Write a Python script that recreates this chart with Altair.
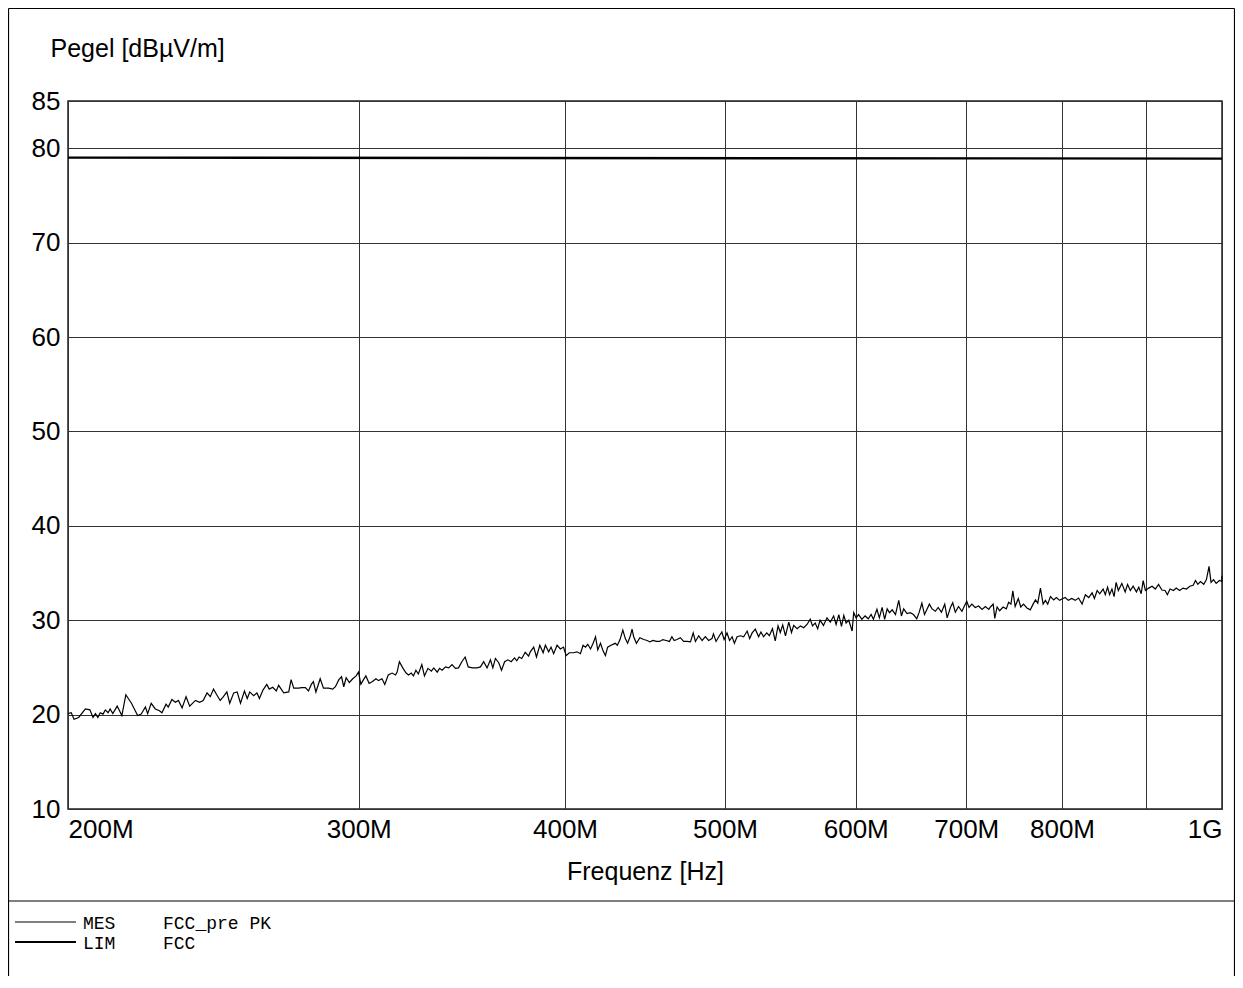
import altair as alt
import pandas as pd

# ---------------- data (frequency in MHz, level in dBµV/m) ----------------
mes_freq_a = [200.0, 200.9, 201.7, 203.0, 204.9, 206.2, 207.1, 207.8, 208.5, 209.2, 210.0, 210.7, 211.5, 212.1, 212.9,
              214.2, 215.6, 216.8, 218.5, 220.4, 221.5, 222.8, 223.5, 224.6, 225.9, 227.2, 228.0, 229.3, 230.0, 231.2,
              232.3, 233.3, 234.5, 235.8, 237.0, 238.9, 240.3, 241.5, 242.8, 243.9, 245.0, 246.1, 247.3, 248.4, 249.6,
              250.6, 252.0, 253.2, 254.4, 255.8, 256.8, 257.7, 259.1, 260.3, 261.2, 262.5, 263.9, 264.8, 266.1, 267.4,
              268.3, 270.2, 272.1, 273.0, 274.0, 275.9]
mes_level_a = [20.1, 20.2, 19.5, 19.7, 20.6, 20.5, 19.7, 20.1, 19.7, 20.2, 20.05, 20.5, 20.2, 20.6, 20.1,
               20.9, 19.9, 22.1, 21.2, 19.9, 20.05, 20.8, 20.1, 21.2, 20.6, 20.4, 20.2, 21.1, 20.8, 21.6,
               21.3, 21.5, 20.7, 21.9, 20.9, 21.5, 21.3, 21.5, 22.3, 21.9, 22.7, 22.1, 21.5, 21.9, 22.4,
               21.2, 22.3, 22.4, 21.2, 22.5, 21.7, 22.4, 22.0, 22.3, 21.7, 22.6, 23.2, 22.7, 22.9, 22.5,
               23.1, 22.3, 22.4, 23.7, 22.8, 22.8]

mes_freq_b = [277.0, 278.5, 279.7, 280.8, 281.6, 282.6, 284.3, 285.6, 287.7, 289.3, 290.4, 291.8, 292.9, 293.8, 294.8,
              296.1, 297.5, 298.9, 299.9, 300.9, 302.0, 303.0, 304.4, 305.8, 307.3, 308.4, 309.9, 311.1, 312.6, 314.3,
              315.8, 316.5, 317.5, 319.0, 320.5, 321.6, 322.8, 323.8, 324.9, 326.0, 327.6, 328.8, 330.4, 332.0, 333.1,
              334.7, 335.8, 337.0, 338.6, 340.1, 341.7, 343.3, 344.8, 346.4, 348.0, 349.5, 351.6, 353.8, 355.5, 357.1,
              358.8, 360.5, 361.7, 363.0, 364.7, 366.1, 367.7, 369.4, 371.1, 372.8, 374.0, 375.2, 376.6, 378.4, 380.2]
mes_level_b = [22.85, 22.85, 22.5, 23.2, 23.5, 22.4, 23.8, 22.8, 22.8, 22.7, 22.95, 23.7, 24.0, 22.95, 23.9,
               23.4, 23.8, 24.1, 24.5, 23.2, 23.7, 24.1, 23.3, 23.5, 23.8, 23.6, 23.8, 23.2, 24.2, 24.4,
               24.2, 24.5, 25.6, 24.95, 24.4, 24.2, 24.4, 24.1, 24.7, 24.3, 25.3, 24.1, 24.9, 24.6, 24.95,
               24.5, 24.9, 24.7, 25.05, 24.95, 25.3, 24.9, 24.95, 25.6, 26.1, 25.05, 24.95, 24.95, 25.05, 25.6,
               24.95, 25.8, 24.95, 25.95, 25.5, 24.7, 25.6, 25.8, 25.6, 26.0, 25.7, 26.1, 25.95, 26.6, 26.2]

mes_freq_c = [381.1, 382.9, 384.4, 386.2, 388.0, 389.2, 391.0, 392.3, 393.7, 395.6, 397.4, 399.2, 400.6, 402.4, 404.8,
              406.7, 408.7, 410.2, 411.6, 412.9, 414.5, 416.0, 417.4, 418.7, 420.3, 421.8, 423.2, 424.5, 426.5, 429.0,
              430.3, 431.9, 433.6, 435.1, 436.5, 438.2, 439.2, 440.2, 441.9, 444.0, 446.4, 448.6, 450.2, 452.3, 454.3,
              456.4, 458.5, 460.6, 462.7, 464.3, 465.8, 467.6, 469.8, 472.0, 474.3, 476.5, 478.3, 479.8, 482.0, 484.3,
              486.5, 488.7, 491.0, 492.0, 493.8, 496.1, 497.8, 499.4, 501.4, 503.2, 505.0, 506.6, 508.5, 510.9, 513.2,
              515.7, 517.5, 519.3, 521.6, 524.0, 525.7, 527.6, 530.0, 531.9]
mes_level_c = [26.65, 27.15, 26.1, 27.35, 26.55, 27.35, 26.65, 27.15, 26.45, 27.35, 26.95, 27.15, 26.25, 26.55, 26.55,
               26.65, 26.45, 27.35, 27.15, 27.45, 26.95, 27.55, 28.25, 26.85, 27.55, 26.75, 26.25, 27.15, 27.35, 27.55,
               27.35, 27.95, 28.95, 28.05, 27.55, 28.35, 29.05, 28.25, 27.55, 28.15, 27.95, 27.85, 27.7, 27.85, 27.75,
               27.75, 27.95, 27.85, 27.75, 28.25, 27.85, 27.95, 28.15, 27.75, 27.75, 27.7, 28.65, 27.75, 28.35, 27.85,
               28.25, 27.85, 28.05, 28.55, 27.75, 28.35, 28.75, 27.95, 28.65, 27.85, 28.25, 27.55, 28.25, 28.35, 28.25,
               28.85, 28.05, 28.65, 29.05, 28.25, 28.75, 28.25, 28.65, 28.35]

mes_freq_d = [534.2, 536.3, 538.4, 540.1, 541.9, 544.0, 546.5, 548.6, 550.3, 552.9, 555.5, 558.0, 560.6, 563.1, 564.9,
              567.0, 569.0, 570.9, 573.6, 576.4, 579.1, 581.8, 583.8, 586.0, 588.2, 590.1, 592.0, 594.2, 597.0, 598.3,
              600.3, 602.4, 605.2, 607.9, 610.6, 613.0, 615.0, 618.0, 620.1, 622.5, 624.7, 626.9, 628.9, 631.3, 634.2,
              637.1, 639.5, 641.5, 644.5, 647.4, 650.3, 653.3, 655.4, 658.0, 660.4, 662.7, 664.9, 667.4, 670.5, 673.1,
              676.2, 679.3, 681.6, 684.7, 686.9, 689.4, 692.5, 695.8, 698.2, 700.5, 702.7, 705.5, 708.8, 712.2, 715.6,
              718.9, 722.3]
mes_level_d = [29.1, 27.8, 29.4, 28.7, 29.5, 28.35, 29.8, 28.7, 29.45, 29.1, 29.4, 29.2, 29.55, 30.1, 29.4,
               29.7, 29.1, 30.0, 29.45, 30.25, 29.8, 30.45, 29.55, 30.6, 29.35, 30.5, 29.7, 30.0, 28.85, 30.8,
               30.25, 30.6, 30.1, 30.45, 30.15, 30.6, 30.1, 31.15, 30.25, 31.35, 30.1, 31.2, 30.8, 31.1, 30.6,
               32.1, 30.45, 31.2, 30.7, 30.8, 30.6, 30.15, 30.8, 31.8, 30.6, 31.15, 31.7, 31.2, 30.95, 31.35,
               30.85, 31.7, 30.25, 31.35, 31.85, 30.85, 31.45, 30.95, 31.5, 32.0, 31.35, 31.7, 31.35, 31.5, 31.15,
               31.45, 31.15]

mes_freq_e = [724.0, 726.8, 728.4, 730.8, 733.4, 736.9, 740.2, 742.6, 745.0, 747.0, 749.4, 752.7, 755.3, 758.2, 761.8,
              765.4, 768.4, 770.9, 773.4, 776.3, 779.2, 781.7, 784.2, 787.2, 790.8, 793.7, 797.3, 801.0, 803.5, 807.1,
              811.0, 814.9, 818.7, 822.7, 826.5, 830.4, 834.3, 837.0, 840.2, 843.2, 847.2, 849.8, 852.5, 854.9, 857.7,
              860.3, 862.7, 865.4, 869.6, 873.7, 876.6, 880.0, 883.4, 887.5, 890.4, 893.4, 895.9, 898.7, 902.8, 907.1,
              911.2, 915.3, 919.6, 923.7, 926.6, 930.1, 934.6, 938.2, 942.6, 947.2, 951.6, 956.1, 960.6, 963.7, 966.8,
              970.4, 974.9, 978.5, 982.1, 984.8, 988.3, 991.9, 996.4, 999.6, 1000.0]
mes_level_e = [31.4, 31.7, 30.2, 31.4, 31.0, 31.4, 31.2, 31.9, 31.7, 33.1, 31.45, 32.3, 31.4, 31.7, 31.3,
               31.1, 31.7, 32.15, 31.8, 33.4, 31.7, 32.1, 31.7, 32.5, 32.15, 32.4, 32.1, 32.3, 32.4, 32.1,
               32.3, 32.1, 32.35, 31.7, 32.7, 32.4, 32.9, 32.3, 33.15, 32.8, 33.3, 32.7, 33.5, 32.7, 33.3,
               32.5, 34.0, 33.15, 33.9, 33.0, 33.8, 33.15, 33.6, 33.0, 33.5, 32.8, 34.2, 33.15, 33.4, 33.6,
               33.3, 33.8, 33.2, 33.15, 32.7, 33.3, 33.15, 33.4, 33.15, 33.4, 33.3, 33.6, 33.7, 34.2, 33.8,
               34.1, 33.8, 34.3, 35.7, 34.0, 34.3, 33.9, 34.2, 34.1, 34.7]

lim_freq = [200.0, 1000.0]
lim_level = [79.0, 78.9]

x_ticks = [200, 300, 400, 500, 600, 700, 800, 900, 1000]
y_ticks = [10, 20, 30, 40, 50, 60, 70, 80, 85]

legend_rows = [("MES", "FCC_pre PK"), ("LIM", "FCC")]

# ---------------- tables ----------------
mes_freq = mes_freq_a + mes_freq_b + mes_freq_c + mes_freq_d + mes_freq_e
mes_level = mes_level_a + mes_level_b + mes_level_c + mes_level_d + mes_level_e
n = min(len(mes_freq), len(mes_level))
mes_df = pd.DataFrame({"freq": mes_freq[:n], "level": mes_level[:n]})
lim_df = pd.DataFrame({"freq": lim_freq, "level": lim_level})
one = pd.DataFrame({"k": [0]})

SANS = "Liberation Sans"
MONO = "Liberation Mono"

x_axis = alt.Axis(
    values=x_ticks,
    labelExpr="datum.value == 900 ? '' : (datum.value >= 1000 ? '1G' : datum.value + 'M')",
    labelFlush=True, labelOverlap=False,
    labelFont=SANS, labelFontSize=26, labelColor="black", labelPadding=7,
    ticks=False, tickSize=0, domain=False,
    grid=True, gridColor="#333333", gridWidth=1, gridOpacity=1,
    title="Frequenz [Hz]", titleFont=SANS, titleFontSize=25, titleFontWeight="normal",
    titleColor="black", titleY=62, titleBaseline="middle",
)
y_axis = alt.Axis(
    values=y_ticks, labelOverlap=False,
    labelFont=SANS, labelFontSize=26, labelColor="black", labelPadding=8,
    ticks=False, tickSize=0, domain=False,
    grid=True, gridColor="#333333", gridWidth=1, gridOpacity=1,
    title="Pegel [dBµV/m]", titleFont=SANS, titleFontSize=25, titleFontWeight="normal",
    titleColor="black", titleAngle=0, titleAlign="left", titleBaseline="middle",
    titleX=-18, titleY=-53,
)

x_enc = alt.X("freq:Q", scale=alt.Scale(type="log", domain=[200, 1000], nice=False), axis=x_axis)
y_enc = alt.Y("level:Q", scale=alt.Scale(domain=[10, 85], nice=False, zero=False), axis=y_axis)

mes_line = alt.Chart(mes_df).mark_line(color="black", strokeWidth=1.2).encode(x=x_enc, y=y_enc)
lim_line = alt.Chart(lim_df).mark_line(color="black", strokeWidth=2.4).encode(x=x_enc, y=y_enc)


def hrule(x1, x2, y, w):
    return alt.Chart(one).mark_rule(color="black", strokeWidth=w).encode(
        x=alt.value(x1), x2=alt.value(x2), y=alt.value(y))


def vrule(x, y1, y2, w):
    return alt.Chart(one).mark_rule(color="black", strokeWidth=w).encode(
        x=alt.value(x), y=alt.value(y1), y2=alt.value(y2))


def text(t, x, y):
    return alt.Chart(one).mark_text(text=t, font=MONO, fontSize=18, align="left",
                                    baseline="alphabetic", color="black").encode(
        x=alt.value(x), y=alt.value(y))


decor = [
    hrule(-59.5, 1166.5, -92.5, 1.2),   # outer frame top
    vrule(-59.5, -92.5, 875, 1.2),      # outer frame left
    vrule(1166.5, -92.5, 875, 1.2),     # outer frame right
    hrule(-59.5, 1166.5, 800, 1.2),     # legend separator
    hrule(-53, 8, 821, 1.0),            # MES legend line
    hrule(-53, 8, 841, 2.2),            # LIM legend line
    text(legend_rows[0][0], 15, 828), text(legend_rows[0][1], 95, 828),
    text(legend_rows[1][0], 15, 848), text(legend_rows[1][1], 95, 848),
]

# total SVG width 1227 = page width minus the 8px margins, so the page does not shrink it
chart = alt.layer(mes_line, lim_line, *decor).properties(
    width=1154, height=708,
    padding={"left": 60, "top": 93, "right": 13, "bottom": 167},
    autosize=alt.AutoSizeParams(type="none"),
    background="white",
).configure_view(stroke="#222222", strokeWidth=1.5)

chart.save("out.html", embed_options={"renderer": "svg", "actions": False})
